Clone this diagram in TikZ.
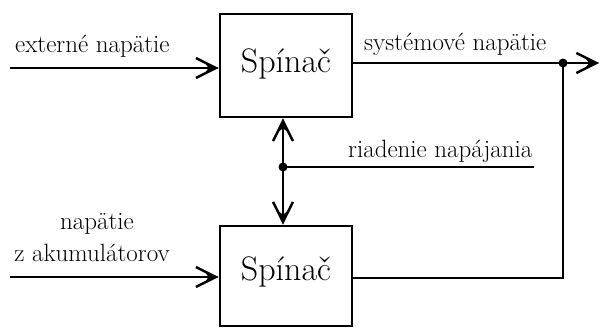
\documentclass[tikz,border=0pt]{standalone}
\usetikzlibrary{arrows.meta}
\begin{document}
\begin{tikzpicture}[x=1pt,y=-1pt,
  wire/.style={line width=2.8pt},
  sig/.style={wire, -{Straight Barb[length=20pt,width=20pt,line width=2.4pt]},
    postaction={draw, line width=2.8pt, -{Stealth[length=13pt,width=9pt,inset=3pt]}}},
  box/.style={draw, line width=2.8pt, minimum width=132pt, inner sep=0pt},
  lbl/.style={inner sep=0pt, font=\fontsize{25}{30}\selectfont},
  boxtxt/.style={inner sep=0pt, font=\fontsize{34}{40}\selectfont}]
\useasboundingbox (0,0) rectangle (600,327);

% the two switch blocks
\node[box, minimum height=103pt] (s1) at (286,65.5) {};
\node[box, minimum height=100pt] (s2) at (286,276) {};
\node[boxtxt] (t1) at (286,64) {Spínač};
\node[boxtxt] (t2) at (286,272) {Spínač};

% labels
\node[lbl, anchor=base west] (lext) at (15,52) {externé napätie};
\node[lbl, anchor=base west] (lsys) at (364,50) {systémové napätie};
\node[lbl, anchor=base west] (lctl) at (348,157) {riadenie napájania};
\node[lbl, anchor=base] (lbat1) at (97,229) {napätie};
\node[lbl, anchor=base] (lbat2) at (92,261) {z akumulátorov};

% connection points
\coordinate (in1) at (10,68);
\coordinate (in2) at (10,277);
\coordinate (j1) at (563,63);
\coordinate (out) at (599,63);
\coordinate (c2) at (563,278);
\coordinate (j2) at (283,167);
\coordinate (ctl) at (534,167);

% inputs
\draw[sig] (in1) -- (in1 -| s1.west);
\draw[sig] (in2) -- (in2 -| s2.west);

% system voltage output, shared by both switches
\draw[wire] (s1.east |- j1) -- (j1);
\draw[sig] (j1) -- (out);
\draw[wire] (j1) -- (c2) -- (c2 -| s2.east);

% power control line
\draw[wire] (ctl) -- (j2);
\draw[sig] (j2) -- (j2 |- s1.south);
\draw[sig] (j2) -- (j2 |- s2.north);

% junction dots
\fill (j1) circle (4.5pt);
\fill (j2) circle (4.5pt);
\end{tikzpicture}
\end{document}
